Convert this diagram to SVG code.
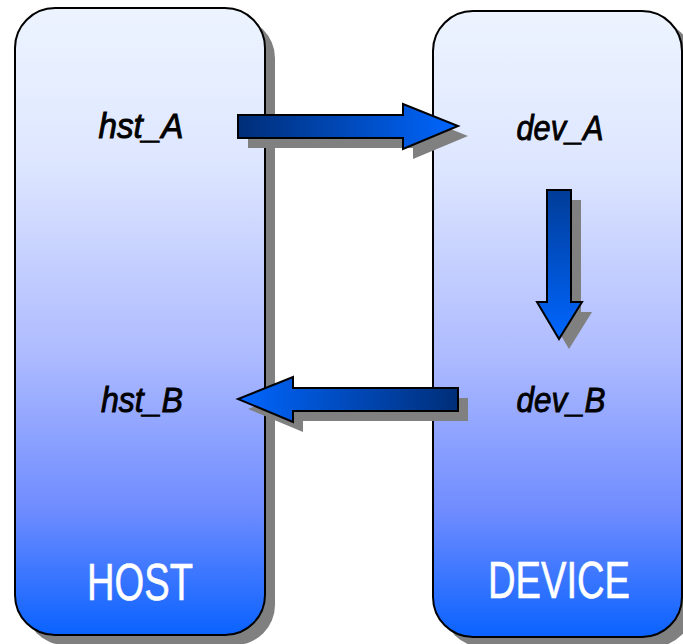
<svg xmlns="http://www.w3.org/2000/svg" width="683" height="644" viewBox="0 0 683 644">
  <defs>
    <linearGradient id="boxFill" x1="0" y1="0" x2="0" y2="1">
      <stop offset="0" stop-color="#EDF4FF"/>
      <stop offset="0.25" stop-color="#DDE6FF"/>
      <stop offset="0.55" stop-color="#AEBBFF"/>
      <stop offset="0.8" stop-color="#6F8CFF"/>
      <stop offset="1" stop-color="#0A62FF"/>
    </linearGradient>
    <linearGradient id="arrowRight" x1="0" y1="0" x2="1" y2="0">
      <stop offset="0" stop-color="#002E78"/>
      <stop offset="1" stop-color="#0066FF"/>
    </linearGradient>
    <linearGradient id="arrowLeft" x1="1" y1="0" x2="0" y2="0">
      <stop offset="0" stop-color="#002E78"/>
      <stop offset="1" stop-color="#0066FF"/>
    </linearGradient>
    <linearGradient id="arrowDown" x1="0" y1="0" x2="0" y2="1">
      <stop offset="0" stop-color="#003C98"/>
      <stop offset="1" stop-color="#0066FF"/>
    </linearGradient>
  </defs>
  <style>
    .shadow { fill: #808080; }
    .box { fill: url(#boxFill); stroke: #000; stroke-width: 2; }
    .arrow { stroke: #000; stroke-width: 2; stroke-linejoin: miter; }
    .lbl { font-family: "Liberation Sans", Arial, sans-serif; font-style: italic; font-size: 35px; fill: #000; stroke: #000; stroke-width: 0.9; text-anchor: middle; }
    .title { font-family: "Liberation Sans", Arial, sans-serif; font-size: 52px; fill: #fff; stroke: #fff; stroke-width: 0.6; text-anchor: middle; }
  </style>

  <!-- HOST column -->
  <g id="host">
    <rect class="shadow" x="25" y="18" width="250" height="627" rx="40" ry="40"/>
    <rect class="box" x="15" y="8" width="250" height="627" rx="40" ry="40"/>
    <text class="lbl" x="141" y="138" textLength="85" lengthAdjust="spacingAndGlyphs">hst_A</text>
    <text class="lbl" x="142" y="412" textLength="82" lengthAdjust="spacingAndGlyphs">hst_B</text>
    <text class="title" x="140" y="600" textLength="106" lengthAdjust="spacingAndGlyphs">HOST</text>
  </g>

  <!-- DEVICE column -->
  <g id="device">
    <rect class="shadow" x="443" y="21" width="250" height="626" rx="40" ry="40"/>
    <rect class="box" x="433" y="11" width="249" height="626" rx="40" ry="40"/>
    <text class="lbl" x="560" y="140" textLength="87" lengthAdjust="spacingAndGlyphs">dev_A</text>
    <text class="lbl" x="561" y="412" textLength="89" lengthAdjust="spacingAndGlyphs">dev_B</text>
    <text class="title" x="559" y="598" textLength="142" lengthAdjust="spacingAndGlyphs">DEVICE</text>
  </g>

  <!-- transfer arrows -->
  <g id="connectors">
    <!-- hst_A to dev_A -->
    <polygon class="shadow" points="248,125 413,125 413,114 468,136 413,159 413,148 248,148"/>
    <polygon class="arrow" fill="url(#arrowRight)" points="238,115 403,115 403,104 458,126 403,149 403,138 238,138"/>
    <!-- dev_A to dev_B -->
    <polygon class="shadow" points="557,200 581,200 581,312 592,312 569,349 547,312 557,312"/>
    <polygon class="arrow" fill="url(#arrowDown)" points="547,190 571,190 571,302 582,302 559,339 537,302 547,302"/>
    <!-- dev_B to hst_B -->
    <polygon class="shadow" points="468,398 303,398 303,387 248,409 303,432 303,421 468,421"/>
    <polygon class="arrow" fill="url(#arrowLeft)" points="458,388 293,388 293,377 238,399 293,422 293,411 458,411"/>
  </g>
</svg>
